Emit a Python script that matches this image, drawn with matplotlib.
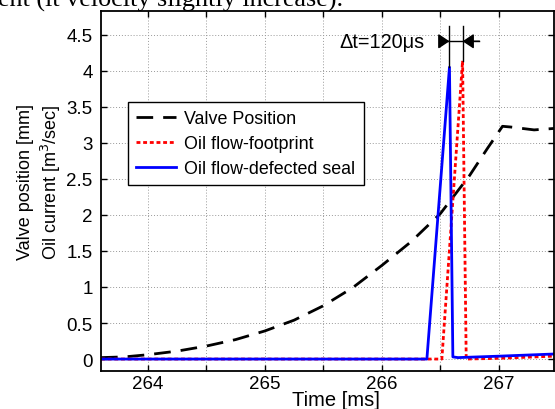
import matplotlib
matplotlib.use("Agg")
import matplotlib.pyplot as plt
import numpy as np

plt.rcParams['font.family'] = ['Liberation Sans', 'DejaVu Sans']

# ---- data ----
t_valve = [263.6, 263.8, 264.0, 264.25, 264.5, 264.75, 265.0, 265.25, 265.5,
           265.75, 266.0, 266.25, 266.5, 266.75, 266.9, 267.03, 267.1, 267.2,
           267.3, 267.47]
valve_pos = [0.02, 0.03, 0.06, 0.11, 0.18, 0.27, 0.39, 0.54, 0.74, 0.99, 1.30,
             1.63, 2.02, 2.55, 2.92, 3.23, 3.22, 3.20, 3.18, 3.20]

t_foot = [263.6, 266.512, 266.689, 266.72, 267.0, 267.47]
flow_foot = [0.0, 0.0, 4.14, 0.0, 0.01, 0.04]

t_defect = [263.6, 266.384, 266.577, 266.606, 266.65, 267.0, 267.47]
flow_defect = [0.0, 0.0, 4.05, 0.03, 0.02, 0.04, 0.07]

labels = ["Valve Position", "Oil flow-footprint", "Oil flow-defected seal"]
x_ticks = [264, 264.5, 265, 265.5, 266, 266.5, 267]
x_ticklabels = ["264", "", "265", "", "266", "", "267"]
y_ticks = [0, 0.5, 1, 1.5, 2, 2.5, 3, 3.5, 4, 4.5]
y_ticklabels = ["0", "0.5", "1", "1.5", "2", "2.5", "3", "3.5", "4", "4.5"]
dt_marks = [266.577, 266.689]
dt_peaks = [4.05, 4.14]
dt_text = "\u0394t=120\u03bcs"

# ---- figure ----
W, H = 555, 410
fig = plt.figure(figsize=(W / 100, H / 100), dpi=100)
L, R, T, B = 101, 554, 12, 372.3
ax = fig.add_axes([L / W, (H - B) / H, (R - L) / W, (B - T) / H])

ax.plot(t_valve, valve_pos, color='black', lw=2.0, dashes=(6.0, 3.6), label=labels[0])
ax.plot(t_foot, flow_foot, color='red', lw=2.0, dashes=(1.4, 1.0), label=labels[1])
ax.plot(t_defect, flow_defect, color='blue', lw=2.0, label=labels[2])

ax.set_xlim(263.6, 267.47)
ax.set_ylim(-0.17, 4.83)
ax.set_xticks(x_ticks)
ax.set_xticklabels(x_ticklabels)
ax.set_yticks(y_ticks)
ax.set_yticklabels(y_ticklabels)
ax.tick_params(direction='in', length=4, width=1, top=True, right=True,
               labelsize=13.5, colors='black')
ax.tick_params(axis='y', pad=6)
ax.tick_params(axis='x', pad=3)
ax.grid(True, color='0.6', lw=0.7, linestyle=(0, (1, 2)))
for s in ax.spines.values():
    s.set_linewidth(1.3)
    s.set_color('black')

ax.set_xlabel("Time [ms]", fontsize=14.5)
ax.xaxis.label.set_verticalalignment('baseline')
ax.xaxis.set_label_coords((336 - L) / (R - L), (B - 406) / (B - T))

ax.set_ylabel("Valve position [mm]\nOil current [m$^3$/sec]", fontsize=13,
              linespacing=1.3)
ax.yaxis.label.set_verticalalignment('center')
ax.yaxis.label.set_horizontalalignment('center')
ax.yaxis.set_label_coords((40 - L) / (R - L), (B - 182) / (B - T))

leg = ax.legend(loc='upper left', bbox_to_anchor=((128 - L) / (R - L), (B - 103) / (B - T)),
                fontsize=12.9, frameon=True, fancybox=False, framealpha=1,
                edgecolor='black', handlelength=2.25, handletextpad=0.45,
                borderpad=0.45, labelspacing=0.44, borderaxespad=0)
leg.get_frame().set_linewidth(1.0)

# delta-t annotation
y_top = 4.62
y_arr = 4.41
for xm, yp in zip(dt_marks, dt_peaks):
    ax.plot([xm, xm], [yp, y_top], color='black', lw=1.0)
ax.plot([266.50, 266.833], [y_arr, y_arr], color='black', lw=1.0)
ax.annotate('', xy=(dt_marks[0], y_arr), xytext=(266.50, y_arr),
            arrowprops=dict(arrowstyle='-|>,head_length=0.45,head_width=0.3',
                            color='black', lw=1.0, shrinkA=0, shrinkB=0,
                            mutation_scale=15))
ax.annotate('', xy=(dt_marks[1], y_arr), xytext=(266.833, y_arr),
            arrowprops=dict(arrowstyle='-|>,head_length=0.45,head_width=0.3',
                            color='black', lw=1.0, shrinkA=0, shrinkB=0,
                            mutation_scale=15))
ax.text(266.36, y_arr, dt_text, ha='right', va='center', fontsize=14.3)

# cut-off text from the page above the figure
fig.text(-2 / W, 1 - 7 / H, "ent (it velocity slightly increase).",
         family='Liberation Serif', fontsize=18.8, va='baseline', ha='left')

fig.savefig("out.png", dpi=100)
